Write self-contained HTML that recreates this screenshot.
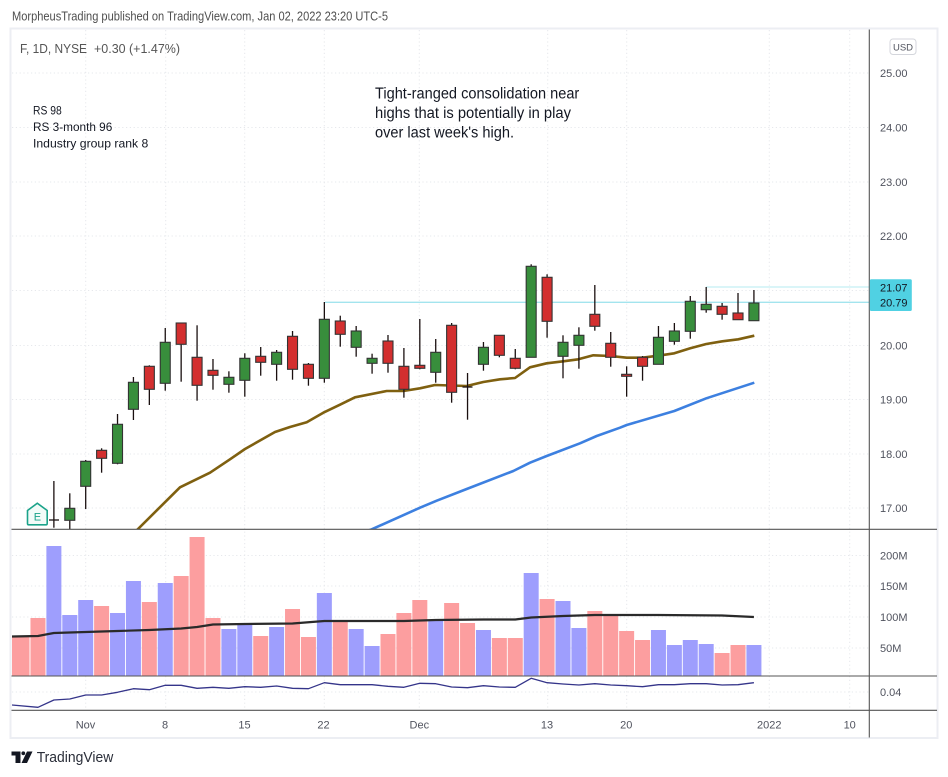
<!DOCTYPE html>
<html><head><meta charset="utf-8"><style>html,body{margin:0;padding:0;background:#fff}svg{display:block}</style></head>
<body>
<svg width="948" height="777" viewBox="0 0 948 777" xmlns="http://www.w3.org/2000/svg" font-family="'Liberation Sans', sans-serif">
<defs>
<clipPath id="cp"><rect x="12" y="30" width="857" height="499"/></clipPath>
<clipPath id="cv"><rect x="12" y="529" width="857" height="147"/></clipPath>
<clipPath id="ci"><rect x="12" y="676" width="857" height="34"/></clipPath>
</defs>
<rect width="948" height="777" fill="#fff"/>
<text x="12" y="20.5" font-size="13" fill="#4f4f4f" textLength="376" lengthAdjust="spacingAndGlyphs">MorpheusTrading published on TradingView.com, Jan 02, 2022 23:20 UTC-5</text>
<rect x="10.5" y="28.5" width="927" height="709.5" fill="none" stroke="#eceef3" stroke-width="2"/>

<!-- grid -->
<g stroke="#e6e8ec" stroke-width="1" stroke-dasharray="1.2 2.6">
<line x1="85.7" y1="30" x2="85.7" y2="710"/><line x1="165.7" y1="30" x2="165.7" y2="710"/><line x1="244.7" y1="30" x2="244.7" y2="710"/><line x1="324.3" y1="30" x2="324.3" y2="710"/><line x1="419.3" y1="30" x2="419.3" y2="710"/><line x1="547.7" y1="30" x2="547.7" y2="710"/><line x1="626.7" y1="30" x2="626.7" y2="710"/><line x1="769.3" y1="30" x2="769.3" y2="710"/><line x1="849.7" y1="30" x2="849.7" y2="710"/>
<line x1="12" y1="73" x2="869" y2="73"/><line x1="12" y1="127.5" x2="869" y2="127.5"/><line x1="12" y1="182" x2="869" y2="182"/><line x1="12" y1="236" x2="869" y2="236"/><line x1="12" y1="290.5" x2="869" y2="290.5"/><line x1="12" y1="345.5" x2="869" y2="345.5"/><line x1="12" y1="399.5" x2="869" y2="399.5"/><line x1="12" y1="454" x2="869" y2="454"/><line x1="12" y1="508" x2="869" y2="508"/>
<line x1="12" y1="555.5" x2="869" y2="555.5"/><line x1="12" y1="586" x2="869" y2="586"/><line x1="12" y1="617" x2="869" y2="617"/><line x1="12" y1="648" x2="869" y2="648"/>
<line x1="12" y1="692" x2="869" y2="692"/>
</g>

<!-- texts in pane -->
<text x="20" y="53" font-size="12.5" fill="#555" textLength="67" lengthAdjust="spacingAndGlyphs">F, 1D, NYSE</text>
<text x="94" y="53" font-size="12.5" fill="#555" textLength="86" lengthAdjust="spacingAndGlyphs">+0.30 (+1.47%)</text>
<g font-size="12" fill="#131722">
<text x="33" y="114.3" textLength="28.7" lengthAdjust="spacingAndGlyphs">RS 98</text>
<text x="33" y="131" textLength="79.3" lengthAdjust="spacingAndGlyphs">RS 3-month 96</text>
<text x="33" y="147.6" textLength="115.3" lengthAdjust="spacingAndGlyphs">Industry group rank 8</text>
</g>
<g font-size="15.5" fill="#131722">
<text x="375" y="98.3" textLength="204.3" lengthAdjust="spacingAndGlyphs">Tight-ranged consolidation near</text>
<text x="375" y="118" textLength="196" lengthAdjust="spacingAndGlyphs">highs that is potentially in play</text>
<text x="375" y="137.7" textLength="139" lengthAdjust="spacingAndGlyphs">over last week's high.</text>
</g>

<!-- price pane -->
<g clip-path="url(#cp)">
<line x1="325" y1="302.3" x2="869" y2="302.3" stroke="#a3e4ee" stroke-width="1.3"/>
<line x1="706" y1="287" x2="869" y2="287" stroke="#b6ebf2" stroke-width="1"/>
<polyline fill="none" stroke="#3d80e0" stroke-width="2.6" stroke-linejoin="round" points="367,531 371.7,529.3 420,507.7 436.7,500.7 466.7,489 513.3,471 530,462.7 546.7,456 580,443.3 596.7,436 620,427.7 626.7,425 674.3,411 706.3,398.3 754.3,382.7"/>
<polyline fill="none" stroke="#7f6010" stroke-width="2.6" stroke-linejoin="round" points="136,531 138,529 180,487.3 210,472.7 230,459.3 245,449 275,432 290,427 306.7,422.3 323.3,412.7 340,404.7 355,397.3 386.7,391 403.3,391 420,388.3 435,385 466.7,386 483.3,382 500,379.3 515,378 530,367.3 546.7,363.3 563.3,361.3 578.3,359.3 593.3,355.3 610.7,356 626.7,357.7 642.3,357.7 658.3,355.7 674.3,353.3 690.3,348.3 706.3,344 722.3,341.3 738.3,339.3 754.3,335.7"/>
<!-- E marker -->
<path d="M27.5 510.5 L37.3 503.2 L47.2 510.5 L47.2 523.5 Q47.2 524.8 46 524.8 L28.7 524.8 Q27.5 524.8 27.5 523.5 Z" fill="#f2fbf8" stroke="#1ba38a" stroke-width="1.6"/>
<text x="37.4" y="520.5" font-size="11" fill="#1ba38a" text-anchor="middle">E</text>
<!-- wicks -->
<g stroke="#1a1010" stroke-width="1.3">
<line x1="53.88" y1="481" x2="53.88" y2="527.7"/><line x1="49" y1="520" x2="59" y2="520"/>
<line x1="69.79" y1="493.3" x2="69.79" y2="529"/>
<line x1="85.7" y1="460" x2="85.7" y2="509"/>
<line x1="101.61" y1="448.3" x2="101.61" y2="472.7"/>
<line x1="117.52" y1="414" x2="117.52" y2="464.3"/>
<line x1="133.43" y1="377" x2="133.43" y2="420"/>
<line x1="149.34" y1="365.3" x2="149.34" y2="405"/>
<line x1="165.25" y1="328" x2="165.25" y2="390.7"/>
<line x1="181.16" y1="323" x2="181.16" y2="381.7"/>
<line x1="197.07" y1="325.3" x2="197.07" y2="400.7"/>
<line x1="212.98" y1="359" x2="212.98" y2="389.7"/>
<line x1="228.89" y1="371.3" x2="228.89" y2="392.7"/>
<line x1="244.8" y1="353.3" x2="244.8" y2="396.7"/>
<line x1="260.71" y1="347" x2="260.71" y2="375.7"/>
<line x1="276.62" y1="350" x2="276.62" y2="380.7"/>
<line x1="292.53" y1="331" x2="292.53" y2="379.7"/>
<line x1="308.44" y1="363" x2="308.44" y2="385.7"/>
<line x1="324.35" y1="302" x2="324.35" y2="382.7"/>
<line x1="340.26" y1="315.7" x2="340.26" y2="346.7"/>
<line x1="356.17" y1="326" x2="356.17" y2="356.7"/>
<line x1="372.08" y1="353.7" x2="372.08" y2="373.7"/>
<line x1="387.99" y1="335" x2="387.99" y2="372.7"/>
<line x1="403.9" y1="348" x2="403.9" y2="397.7"/>
<line x1="419.81" y1="319" x2="419.81" y2="369.3"/>
<line x1="435.72" y1="339" x2="435.72" y2="382.7"/>
<line x1="451.63" y1="323" x2="451.63" y2="402.7"/>
<line x1="467.54" y1="373" x2="467.54" y2="419.7"/><line x1="462.5" y1="387" x2="472.5" y2="387"/>
<line x1="483.45" y1="342" x2="483.45" y2="370.7"/>
<line x1="499.36" y1="335.3" x2="499.36" y2="357.3"/>
<line x1="515.27" y1="349" x2="515.27" y2="369.3"/>
<line x1="531.18" y1="264.3" x2="531.18" y2="357.3"/>
<line x1="547.09" y1="274.3" x2="547.09" y2="337.7"/>
<line x1="563" y1="335.3" x2="563" y2="378.3"/>
<line x1="578.91" y1="327.3" x2="578.91" y2="368.7"/>
<line x1="594.82" y1="285" x2="594.82" y2="330.7"/>
<line x1="610.73" y1="332" x2="610.73" y2="366.7"/>
<line x1="626.64" y1="366.3" x2="626.64" y2="396.7"/>
<line x1="642.55" y1="356" x2="642.55" y2="380.7"/>
<line x1="658.46" y1="326" x2="658.46" y2="364.3"/>
<line x1="674.37" y1="323" x2="674.37" y2="344.7"/>
<line x1="690.28" y1="296" x2="690.28" y2="338.7"/>
<line x1="706.19" y1="287" x2="706.19" y2="312.7"/>
<line x1="722.1" y1="303" x2="722.1" y2="319.7"/>
<line x1="738.01" y1="293" x2="738.01" y2="319.7"/>
<line x1="753.92" y1="290" x2="753.92" y2="320.7"/>
</g>
<!-- bodies -->
<g stroke="#333" stroke-width="1.1">
<g fill="#388e3c">
<rect x="64.79" y="508.3" width="10" height="12"/>
<rect x="80.7" y="461.3" width="10" height="25"/>
<rect x="112.52" y="424.3" width="10" height="39"/>
<rect x="128.43" y="382.3" width="10" height="27"/>
<rect x="160.25" y="342.3" width="10" height="41"/>
<rect x="223.89" y="377.3" width="10" height="7"/>
<rect x="239.8" y="358.3" width="10" height="22"/>
<rect x="271.62" y="352.3" width="10" height="12"/>
<rect x="319.35" y="319.3" width="10" height="59"/>
<rect x="351.17" y="331" width="10" height="16.3"/>
<rect x="367.08" y="358.3" width="10" height="5"/>
<rect x="430.72" y="352.3" width="10" height="20"/>
<rect x="478.45" y="347.3" width="10" height="17"/>
<rect x="526.18" y="266.3" width="10" height="91"/>
<rect x="558" y="342.3" width="10" height="14"/>
<rect x="573.91" y="335.3" width="10" height="10"/>
<rect x="653.46" y="337.3" width="10" height="27"/>
<rect x="669.37" y="331" width="10" height="10.3"/>
<rect x="685.28" y="301.3" width="10" height="30"/>
<rect x="701.19" y="304.3" width="10" height="5.4"/>
<rect x="748.92" y="303" width="10" height="17.7"/>
</g>
<g fill="#d32f2f">
<rect x="96.61" y="450.3" width="10" height="8"/>
<rect x="144.34" y="366.3" width="10" height="23"/>
<rect x="176.16" y="323" width="10" height="21.3"/>
<rect x="192.07" y="357.3" width="10" height="28"/>
<rect x="207.98" y="370.3" width="10" height="5"/>
<rect x="255.71" y="356.3" width="10" height="6"/>
<rect x="287.53" y="336.3" width="10" height="33"/>
<rect x="303.44" y="364.3" width="10" height="14"/>
<rect x="335.26" y="321" width="10" height="13.3"/>
<rect x="382.99" y="341" width="10" height="22.3"/>
<rect x="398.9" y="366.3" width="10" height="23"/>
<rect x="414.81" y="365.3" width="10" height="3"/>
<rect x="446.63" y="325.3" width="10" height="67"/>
<rect x="494.36" y="335.3" width="10" height="20"/>
<rect x="510.27" y="358.3" width="10" height="10"/>
<rect x="542.09" y="277.3" width="10" height="44"/>
<rect x="589.82" y="314.3" width="10" height="12"/>
<rect x="605.73" y="343.3" width="10" height="14"/>
<rect x="621.64" y="374.3" width="10" height="2"/>
<rect x="637.55" y="357.3" width="10" height="9"/>
<rect x="717.1" y="306.3" width="10" height="8"/>
<rect x="733.01" y="313" width="10" height="6.7"/>
</g>
</g>
</g>

<!-- volume pane -->
<g clip-path="url(#cv)">
<g fill="#fc9e9f">
<rect x="12" y="636" width="17.5" height="40"/>
<rect x="30.47" y="618" width="15" height="58"/>
<rect x="94.11" y="606" width="15" height="70"/>
<rect x="141.84" y="602" width="15" height="74"/>
<rect x="173.66" y="576" width="15" height="100"/>
<rect x="189.57" y="537" width="15" height="139"/>
<rect x="205.48" y="618" width="15" height="58"/>
<rect x="253.21" y="636" width="15" height="40"/>
<rect x="285.03" y="609" width="15" height="67"/>
<rect x="300.94" y="637" width="15" height="39"/>
<rect x="332.76" y="621" width="15" height="55"/>
<rect x="380.49" y="634" width="15" height="42"/>
<rect x="396.4" y="613" width="15" height="63"/>
<rect x="412.31" y="600" width="15" height="76"/>
<rect x="444.13" y="603" width="15" height="73"/>
<rect x="460.04" y="623" width="15" height="53"/>
<rect x="491.86" y="638" width="15" height="38"/>
<rect x="507.77" y="638" width="15" height="38"/>
<rect x="539.59" y="599" width="15" height="77"/>
<rect x="587.32" y="611" width="15" height="65"/>
<rect x="603.23" y="615" width="15" height="61"/>
<rect x="619.14" y="631" width="15" height="45"/>
<rect x="635.05" y="640" width="15" height="36"/>
<rect x="714.6" y="653" width="15" height="23"/>
<rect x="730.51" y="645" width="15" height="31"/>
</g>
<g fill="#9e9efd">
<rect x="46.38" y="546" width="15" height="130"/>
<rect x="62.29" y="615" width="15" height="61"/>
<rect x="78.2" y="600" width="15" height="76"/>
<rect x="110.02" y="613" width="15" height="63"/>
<rect x="125.93" y="581" width="15" height="95"/>
<rect x="157.75" y="583" width="15" height="93"/>
<rect x="221.39" y="629" width="15" height="47"/>
<rect x="237.3" y="624.7" width="15" height="51.3"/>
<rect x="269.12" y="627" width="15" height="49"/>
<rect x="316.85" y="593" width="15" height="83"/>
<rect x="348.67" y="629" width="15" height="47"/>
<rect x="364.58" y="646" width="15" height="30"/>
<rect x="428.22" y="620" width="15" height="56"/>
<rect x="475.95" y="630" width="15" height="46"/>
<rect x="523.68" y="573" width="15" height="103"/>
<rect x="555.5" y="601" width="15" height="75"/>
<rect x="571.41" y="628" width="15" height="48"/>
<rect x="650.96" y="630" width="15" height="46"/>
<rect x="666.87" y="645" width="15" height="31"/>
<rect x="682.78" y="640" width="15" height="36"/>
<rect x="698.69" y="644" width="15" height="32"/>
<rect x="746.42" y="645" width="15" height="31"/>
</g>
<polyline fill="none" stroke="#2a2a2a" stroke-width="2.2" stroke-linejoin="round" points="12,636.5 37.97,636 53.88,633 69.79,632.5 85.7,632 117.52,631 149.34,630 181.16,628.5 197.07,627 212.98,624.5 244.8,624 292.53,623.5 324.35,621 372.08,621 403.9,621 435.72,620 483.45,619.5 515.27,619.5 531.18,617.5 563,616 594.82,615 658.46,615 722.1,615.5 753.92,617"/>
</g>

<!-- indicator pane -->
<g clip-path="url(#ci)">
<polyline fill="none" stroke="#35358a" stroke-width="1.3" stroke-linejoin="round" points="12,705 37.97,707.3 53.88,700 69.79,699 85.7,695 101.61,695 117.52,692.3 133.43,688.7 149.34,689.7 165.25,685.3 181.16,685.3 197.07,688.3 212.98,687.3 228.89,688.3 244.8,686.7 260.71,687.3 276.62,686 292.53,688.3 308.44,688.7 324.35,682.7 340.26,684.7 356.17,684.7 372.08,684.7 387.99,686.3 403.9,687.3 419.81,683.3 435.72,683.7 451.63,687 467.54,687.7 483.45,685.7 499.36,687 515.27,687.3 531.18,678.3 547.09,682.7 563,684 578.91,685 594.82,683.7 610.73,685 626.64,685.7 642.55,686.7 658.46,684.7 674.37,684.7 690.28,683.7 706.19,683.7 722.1,685 738.01,684.7 753.92,682.7"/>
</g>

<!-- separators -->
<g stroke="#555" stroke-width="1.1">
<line x1="869.3" y1="29.5" x2="869.3" y2="737.5"/>
<line x1="11.5" y1="529.3" x2="937" y2="529.3"/>
<line x1="11.5" y1="676" x2="937" y2="676"/>
<line x1="11.5" y1="710.3" x2="937" y2="710.3"/>
</g>

<!-- axis labels -->
<g font-size="11" fill="#50535e">
<text x="880" y="77">25.00</text>
<text x="880" y="131.5">24.00</text>
<text x="880" y="186">23.00</text>
<text x="880" y="240">22.00</text>
<text x="880" y="349.5">20.00</text>
<text x="880" y="403.5">19.00</text>
<text x="880" y="458">18.00</text>
<text x="880" y="512">17.00</text>
<text x="880" y="559.3">200M</text>
<text x="880" y="590">150M</text>
<text x="880" y="621">100M</text>
<text x="880" y="652">50M</text>
<text x="880" y="696">0.04</text>
</g>
<g font-size="11" fill="#50535e" text-anchor="middle">
<text x="85.5" y="728.5">Nov</text>
<text x="165" y="728.5">8</text>
<text x="244.5" y="728.5">15</text>
<text x="323.5" y="728.5">22</text>
<text x="419.3" y="728.5">Dec</text>
<text x="547" y="728.5">13</text>
<text x="626.3" y="728.5">20</text>
<text x="769.3" y="728.5">2022</text>
<text x="849.7" y="728.5">10</text>
</g>
<rect x="890" y="39" width="26" height="15.5" rx="3" fill="#fff" stroke="#d4d6dc" stroke-width="1"/>
<text x="903" y="50.5" font-size="9.5" fill="#50535e" text-anchor="middle">USD</text>

<!-- price labels -->
<rect x="869.8" y="279.3" width="42" height="31.7" rx="1.5" fill="#50d1e3"/>
<text x="880" y="291.5" font-size="11" fill="#131722">21.07</text>
<text x="880" y="306.5" font-size="11" fill="#131722">20.79</text>

<!-- footer -->
<path d="M11.5 751.5 H20.5 V763 H15.5 V755.5 H11.5 Z" fill="#131722"/>
<circle cx="23.3" cy="753.3" r="1.9" fill="#131722"/>
<path d="M27 751.5 H32.5 L27 763 H21.5 Z" fill="#131722"/>
<text x="36.7" y="762" font-size="15" fill="#2a2e39" textLength="76.6" lengthAdjust="spacingAndGlyphs">TradingView</text>
</svg>
</body></html>
